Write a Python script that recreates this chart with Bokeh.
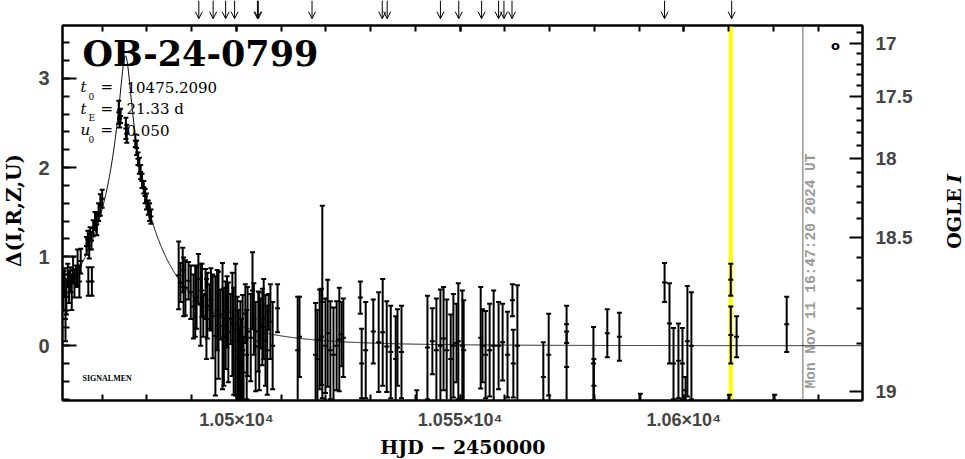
import numpy as np
from bokeh.plotting import figure
from bokeh.layouts import column, row
from bokeh.models import (ColumnDataSource, Range1d, LinearAxis, FixedTicker, Label, Span,
                          Arrow, OpenHead, CustomJSTickFormatter)
from bokeh.embed import file_html
from bokeh.resources import INLINE

# ---------------- data ----------------
event_name = "OB-24-0799"
t0 = 10475.2090
tE = 21.33
u0 = 0.050

hjd = [10461.3, 10461.6, 10461.8, 10462.0, 10462.3, 10462.6, 10462.9, 10463.2, 10463.5, 10463.8,
       10464.2, 10464.5, 10464.9, 10465.2,
       10466.5, 10466.8, 10467.1, 10467.3, 10467.6, 10468.0, 10468.4, 10468.8, 10469.2, 10469.6, 10470.0,
       10466.9, 10467.7,
       10473.7, 10473.9, 10474.1, 10475.3, 10475.5,
       10477.4, 10477.7, 10478.0, 10478.3, 10478.6, 10478.9, 10479.3, 10479.6, 10479.9, 10480.3, 10480.6, 10480.9,
       10487.1, 10487.5, 10488.2, 10488.6, 10489.3, 10490.4, 10491.1, 10491.5, 10492.0, 10492.6,
       10493.1, 10493.5, 10494.0, 10494.7, 10495.3, 10496.0, 10496.4, 10496.9, 10497.6, 10498.2,
       10498.7, 10499.1, 10499.8, 10500.2, 10500.5, 10500.7, 10500.9, 10501.1, 10501.4, 10501.6,
       10502.0, 10502.5, 10503.2, 10503.6, 10504.3, 10504.9, 10505.4, 10505.8, 10506.5, 10507.2,
       10507.6, 10508.1, 10509.2,
       10488.0, 10489.8, 10490.8, 10492.3, 10493.3, 10494.3, 10495.7, 10497.2, 10497.9, 10499.4,
       10502.3, 10503.9, 10505.1, 10506.1, 10506.9,
       10513.7, 10514.1, 10517.7, 10518.1, 10518.6, 10519.0, 10519.2, 10519.9, 10520.4, 10521.0,
       10521.7, 10522.4, 10523.0, 10523.5, 10523.9,
       10527.7, 10528.0, 10528.9, 10530.6, 10531.8, 10532.7, 10533.6, 10534.5, 10535.6, 10536.0,
       10536.9, 10540.3,
       10542.7, 10543.8, 10544.7, 10545.6, 10546.3, 10547.0, 10547.9, 10548.5, 10549.2, 10549.6,
       10550.5, 10550.8, 10554.6, 10555.0, 10555.7, 10556.6, 10557.5, 10558.6, 10559.5, 10560.6,
       10561.7, 10561.9, 10562.8,
       10568.6, 10569.8, 10573.8, 10573.8, 10579.8, 10579.9, 10582.9, 10585.6, 10590.3,
       10595.7, 10596.8, 10597.7, 10598.8, 10599.7, 10600.4, 10600.8, 10601.7,
       10610.2, 10610.5, 10610.5, 10611.8, 10620.3, 10623.0]

dmag = [0.62, 0.72, 0.30, 0.55, 0.80, 0.66, 0.74, 0.60, 0.85, 0.70,
        0.78, 0.88, 0.72, 0.95,
        1.12, 1.20, 1.08, 1.25, 1.18, 1.32, 1.40, 1.36, 1.50, 1.58, 1.65,
        0.72, 0.72,
        2.62, 2.55, 2.58, 2.44, 2.38,
        2.30, 2.22, 2.10, 2.02, 1.95, 1.85, 1.78, 1.68, 1.62, 1.55, 1.50, 1.45,
        0.79, 0.71, 0.66, 0.65, 0.73, 0.44, 0.54, 0.75, 0.46, 0.33,
        0.58, 0.45, 0.44, 0.33, 0.11, 0.23, 0.35, 0.22, 0.23, 0.15,
        0.30, 0.24, 0.18, -0.05, -0.15, -0.25, -0.10, -0.20, -0.05, -0.30,
        0.36, 0.16, 0.09, 0.62, -0.01, 0.16, 0.25, 0.21, 0.06, 0.38,
        0.27, 0.00, 0.42,
        0.85, 0.60, 0.50, 0.62, 0.30, 0.52, 0.40, 0.10, 0.38, 0.05,
        -0.10, 0.30, 0.05, 0.30, -0.05,
        -0.05, 0.10, -0.10, -0.15, 0.07, 0.10, 0.49, 0.00, 0.14, -0.05,
        -0.10, 0.00, 0.07, 0.13, 0.09,
        0.54, -0.20, -0.05, 0.16, 0.04, 0.15, -0.01, -0.07, -0.15, -0.02,
        -0.07, -0.80,
        -0.02, 0.05, -0.05, 0.00, 0.08, -0.05, -0.15, 0.00, 0.03, 0.05,
        0.00, -0.05, 0.09, 0.00, -0.10, -0.05, 0.00, 0.00, 0.04, -0.10,
        0.51, -0.20, 0.00,
        -0.35, -0.10, 0.24, -0.24, -0.20, -0.45, 0.14, 0.10, -0.85,
        0.71, 0.25, -0.20, -0.17, -0.20, -0.50, 0.05, 0.00,
        -0.85, 0.74, 0.12, 0.10, -0.85, 0.24]

derr = [0.22, 0.15, 0.25, 0.20, 0.12, 0.18, 0.14, 0.20, 0.15, 0.16,
        0.12, 0.20, 0.18, 0.14,
        0.10, 0.09, 0.10, 0.08, 0.10, 0.09, 0.10, 0.12, 0.10, 0.12, 0.10,
        0.16, 0.16,
        0.13, 0.10, 0.08, 0.12, 0.10,
        0.07, 0.08, 0.07, 0.09, 0.08, 0.08, 0.07, 0.08, 0.09, 0.08, 0.10, 0.08,
        0.38, 0.22, 0.33, 0.31, 0.21, 0.36, 0.35, 0.28, 0.46, 0.23,
        0.28, 0.37, 0.25, 0.47, 0.67, 0.60, 0.28, 0.71, 0.49, 0.56,
        0.28, 0.58, 0.74, 0.60, 0.55, 0.45, 0.60, 0.50, 0.62, 0.40,
        0.33, 0.50, 0.49, 0.43, 0.50, 0.45, 0.28, 0.43, 0.51, 0.20,
        0.42, 0.49, 0.27,
        0.25, 0.30, 0.40, 0.30, 0.45, 0.35, 0.45, 0.55, 0.40, 0.60,
        0.50, 0.40, 0.55, 0.45, 0.50,
        0.60, 0.45, 0.58, 0.55, 0.56, 0.54, 1.08, 0.53, 0.60, 0.55,
        0.53, 0.50, 0.58, 0.36, 0.44,
        0.18, 0.39, 0.54, 0.36, 0.56, 0.60, 0.51, 0.52, 0.48, 0.43,
        0.52, 0.30,
        0.58, 0.37, 0.58, 0.63, 0.58, 0.57, 0.50, 0.58, 0.44, 0.65,
        0.62, 0.56, 0.57, 0.41, 0.49, 0.52, 0.62, 0.49, 0.43, 0.48,
        0.18, 0.38, 0.68,
        0.39, 0.46, 0.21, 0.40, 0.41, 0.30, 0.27, 0.27, 0.31,
        0.22, 0.45, 0.40, 0.42, 0.40, 0.15, 0.62, 0.60,
        0.30, 0.18, 0.32, 0.23, 0.30, 0.31]

arrow_hjd = [10491.6, 10494.8, 10497.6, 10499.6, 10504.7, 10504.9, 10516.9, 10532.6, 10533.7,
             10545.6, 10549.7, 10554.8, 10558.6, 10559.8, 10561.6, 10595.7, 10610.7]

last_obs_hjd = 10610.5
now_hjd = 10626.6
now_text = "Mon Nov 11 16:47:20 2024 UT"

x_tick_values = [10500, 10550, 10600]
x_tick_labels = ["1.05×10⁴", "1.055×10⁴", "1.06×10⁴"]
y_tick_values = [0, 1, 2, 3]
ogle_major_mags = [17.0, 17.5, 18.0, 18.5, 19.0]
ogle_minor_mags = [16.9, 17.1, 17.2, 17.3, 17.4, 17.6, 17.7, 17.8, 17.9, 18.1, 18.2, 18.3, 18.4,
                   18.6, 18.7, 18.8, 18.9]
I_base = 18.906      # OGLE I at Delta = 0
f_source = 0.219     # blending fraction used for the right-hand scale

XMIN, XMAX = 10461.13, 10639.94
YMIN, YMAX = -0.615, 3.595

# ---------------- helpers ----------------
def mag_to_delta(m):
    m = np.asarray(m, dtype=float)
    flux = 10 ** (-0.4 * (m - I_base))
    return 2.5 * np.log10((flux - (1 - f_source)) / f_source)

hjd_a = np.array(hjd)
dm_a = np.array(dmag)
de_a = np.array(derr)
src = ColumnDataSource(dict(t=hjd_a, d=dm_a, lo=dm_a - de_a, hi=dm_a + de_a))

tm = np.linspace(XMIN, XMAX, 3000)
uu = np.sqrt(u0 ** 2 + ((tm - t0) / tE) ** 2)
AA = (uu ** 2 + 2) / (uu * np.sqrt(uu ** 2 + 4))
model_src = ColumnDataSource(dict(t=tm, d=2.5 * np.log10(AA)))

TOTAL_H = 458
LEFT_W, RIGHT_W = 26, 26
W = 913
LB, RB = 36, 77
xr = Range1d(XMIN, XMAX)
yr = Range1d(YMIN, YMAX)


def bare(width, height, **kw):
    f = figure(width=width, height=height, toolbar_location=None, output_backend="svg",
               x_axis_type=None, y_axis_type=None, min_border_left=0, min_border_right=0,
               min_border_top=0, min_border_bottom=0, **kw)
    f.outline_line_color = None
    f.grid.visible = False
    return f


def add_label(fig, text, x, y, size, font="DejaVu Serif", style="normal", color="black",
              align="left", baseline="middle", angle=0.0, x_units="screen", x_offset=0):
    fig.add_layout(Label(text=text, x=x, y=y, x_units=x_units, y_units="screen", x_offset=x_offset,
                         text_font=font, text_font_style=style, text_font_size=f"{size}px",
                         text_color=color, text_align=align, text_baseline=baseline, angle=angle))


# ---------------- arrow strip above the frame ----------------
pa = figure(width=W, height=20, x_range=xr, y_range=Range1d(-0.1, 1.0),
            x_axis_type=None, y_axis_type=None, toolbar_location=None,
            output_backend="svg", min_border_left=LB, min_border_right=RB,
            min_border_top=0, min_border_bottom=0)
pa.outline_line_color = None
pa.grid.visible = False
asrc = ColumnDataSource(dict(t=arrow_hjd))
pa.add_layout(Arrow(end=OpenHead(size=7, line_width=1, line_color="black"),
                    x_start="t", y_start=1.0, x_end="t", y_end=0.0,
                    line_width=1, line_color="black", source=asrc))

# ---------------- main plot ----------------
p = figure(width=W, height=412, x_range=xr, y_range=yr, toolbar_location=None,
           output_backend="svg", min_border_left=LB, min_border_right=RB,
           min_border_top=5, min_border_bottom=30)
p.grid.visible = False
p.outline_line_color = "black"
p.outline_line_width = 2
p.background_fill_color = "white"

p.add_layout(Span(location=last_obs_hjd, dimension="height", line_color="#ffff00",
                  line_width=4, level="underlay"))
p.add_layout(Span(location=now_hjd, dimension="height", line_color="#9a9a9a",
                  line_width=1.5, level="underlay"))

p.line("t", "d", source=model_src, line_color="black", line_width=1)
p.segment(x0="t", y0="lo", x1="t", y1="hi", source=src, line_color="black", line_width=2)
p.scatter("t", "hi", source=src, marker="dash", size=5, line_color="black", line_width=2)
p.scatter("t", "lo", source=src, marker="dash", size=5, line_color="black", line_width=2)
p.scatter("t", "d", source=src, marker="dash", size=5, line_color="black", line_width=2)

x_minor = list(np.arange(10460, 10641, 10))

xa = p.xaxis[0]
xa.ticker = FixedTicker(ticks=x_tick_values, minor_ticks=x_minor)
xa.major_label_overrides = dict(zip(x_tick_values, x_tick_labels))
xa.major_tick_in = 6
xa.major_tick_out = 0
xa.minor_tick_in = 6
xa.minor_tick_out = 0
xa.major_label_standoff = 9
xa.major_label_text_font = "Liberation Sans"
xa.major_label_text_font_style = "bold"
xa.major_label_text_font_size = "18px"
xa.axis_line_width = 2
xa.major_tick_line_width = 2
xa.minor_tick_line_width = 2

top = LinearAxis(ticker=FixedTicker(ticks=x_tick_values, minor_ticks=x_minor),
                 major_label_text_font_size="0px", major_label_standoff=0,
                 major_tick_in=6, major_tick_out=0, minor_tick_in=6, minor_tick_out=0,
                 axis_line_width=2, major_tick_line_width=2, minor_tick_line_width=2)
top.major_label_overrides = {v: "" for v in x_tick_values}
p.add_layout(top, "above")

ya = p.yaxis[0]
ya.ticker = FixedTicker(ticks=y_tick_values, minor_ticks=list(np.round(np.arange(-0.6, 3.61, 0.2), 2)))
ya.major_tick_in = 14
ya.major_tick_out = 0
ya.minor_tick_in = 7
ya.minor_tick_out = 0
ya.major_label_standoff = 13
ya.major_label_text_font = "Liberation Sans"
ya.major_label_text_font_style = "bold"
ya.major_label_text_font_size = "20px"
ya.axis_line_width = 2
ya.major_tick_line_width = 2
ya.minor_tick_line_width = 2
ya.major_label_orientation = "horizontal"

ra = LinearAxis(ticker=FixedTicker(ticks=list(mag_to_delta(ogle_major_mags)),
                                   minor_ticks=list(mag_to_delta(ogle_minor_mags))),
                formatter=CustomJSTickFormatter(args=dict(I0=I_base, fs=f_source), code="""
const m = I0 - 2.5*Math.log10(fs*Math.pow(10, 0.4*tick) + 1 - fs);
return String(Math.round(m*10)/10);
"""))
ra.major_tick_in = 13
ra.major_tick_out = 0
ra.minor_tick_in = 6
ra.minor_tick_out = 0
ra.major_label_standoff = 13
ra.major_label_text_font = "Liberation Sans"
ra.major_label_text_font_style = "bold"
ra.major_label_text_font_size = "19px"
ra.axis_line_width = 2
ra.major_tick_line_width = 2
ra.minor_tick_line_width = 2
p.add_layout(ra, "right")

# texts inside the frame (screen units measured from the frame's bottom-left corner)
add_label(p, event_name, 20, 347, 35, style="bold")
param_lines = [("t", "0", "10475.2090", 313.5), ("t", "E", "21.33 d", 292), ("u", "0", "0.050", 270.5)]
for sym, sub, val, yc in param_lines:
    add_label(p, sym, 18, yc, 15, style="italic")
    add_label(p, sub, 26, yc - 9, 9)
    add_label(p, "=", 38, yc, 15)
    add_label(p, val, 64, yc, 15)
add_label(p, "SIGNALMEN", 20, 22, 8, font="Liberation Serif", style="bold")
add_label(p, "o", 773, 355, 13, font="DejaVu Sans", style="bold", align="center")
add_label(p, now_text, now_hjd, 12, 14.5, font="Liberation Mono", style="bold", color="#9a9a9a",
          angle=np.pi / 2, x_units="data", x_offset=8)

# ---------------- axis titles in their own strips ----------------
# (the strip below shares the main frame's horizontal extent: x is measured from the frame's left)
pb = bare(W, 26)
add_label(pb, "HJD  −  2450000", 407, 12, 19, style="bold", align="center")

pl = bare(LEFT_W, TOTAL_H)
add_label(pl, "Δ(I,R,Z,U)", 13, TOTAL_H - 210, 20, style="bold", align="center", angle=np.pi / 2)

pr = bare(RIGHT_W, TOTAL_H)
add_label(pr, "OGLE", 14, TOTAL_H - 218, 19, style="bold", align="center", angle=np.pi / 2)
add_label(pr, "I", 14, TOTAL_H - 178, 19, style="bold italic", align="center", angle=np.pi / 2)

layout = row(pl, column(pa, p, pb), pr)
open("out.html", "w").write(file_html(layout, INLINE))
